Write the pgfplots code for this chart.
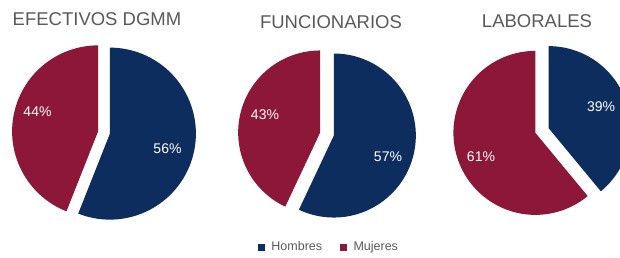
\documentclass[border=0pt]{standalone}
\usepackage{pgfplots}
\pgfplotsset{compat=1.18}
\usepackage{fontspec}
\setmainfont{Liberation Sans}
\definecolor{cHom}{HTML}{0C2D5E}
\definecolor{cMuj}{HTML}{8C1738}
\definecolor{cTxt}{HTML}{595959}

% one slice: centre x, centre y, radius, explosion, start angle, end angle (clockwise from top), colour
\newcommand\pieslice[7]{%
  \pgfmathsetmacro\midang{(#5+#6)/2}%
  \pgfmathsetmacro\ox{#1+#4*sin(\midang)}%
  \pgfmathsetmacro\oy{#2-#4*cos(\midang)}%
  \edef\tmp{\noexpand\addplot[fill=#7, draw=none, domain=#5:#6, samples=150, forget plot]
    ({\ox+#3*sin(x)},{\oy-#3*cos(x)}) -- (axis cs:\ox,\oy) -- cycle;}%
  \tmp
}
% pie: centre x, centre y, radius, explosion, share of Hombres (percent)
\newcommand\pie[5]{%
  \pgfmathsetmacro\angh{3.6*#5}%
  \pieslice{#1}{#2}{#3}{#4}{0}{\angh}{cHom}%
  \pgfmathsetmacro\angh{3.6*#5}%
  \pieslice{#1}{#2}{#3}{#4}{\angh}{360}{cMuj}%
}

\begin{document}
\begin{tikzpicture}
\begin{axis}[
  width=620pt, height=257pt, scale only axis,
  xmin=0, xmax=620, ymin=0, ymax=257, y dir=reverse,
  hide axis, clip=true,
  legend columns=2,
  legend style={at={(axis cs:329,247)}, anchor=center, draw=none, fill=none,
    font=\fontsize{12.5}{14}\selectfont\color{cTxt}, inner sep=0pt,
    /tikz/every even column/.append style={column sep=16pt}},
]
% Hombres percentages: EFECTIVOS DGMM 56, FUNCIONARIOS 57, LABORALES 39
\pie{104}{132.5}{86}{6}{56}
\pie{327}{134}{82}{7}{57}
\pie{542}{130.5}{82}{7}{39}

\addlegendimage{legend image code/.code={\fill[cHom] (0pt,-3pt) rectangle (6pt,3pt);}}
\addlegendentry{\hspace{5pt}Hombres}
\addlegendimage{legend image code/.code={\fill[cMuj] (0pt,-3pt) rectangle (6pt,3pt);}}
\addlegendentry{\hspace{5pt}Mujeres}

\begin{scope}[every node/.style={font=\fontsize{18.5}{20}\selectfont, text=cTxt}]
\node at (axis cs:97,19) {EFECTIVOS DGMM};
\node at (axis cs:331,22.5) {FUNCIONARIOS};
\node at (axis cs:537,21) {LABORALES};
\end{scope}
\begin{scope}[every node/.style={font=\fontsize{14}{16}\selectfont, text=white}]
\node at (axis cs:37.5,112) {44\%};
\node at (axis cs:167.5,149) {56\%};
\node at (axis cs:265,115) {43\%};
\node at (axis cs:388,157) {57\%};
\node at (axis cs:601,107) {39\%};
\node at (axis cs:481,157) {61\%};
\end{scope}
\end{axis}
\pgfresetboundingbox
\useasboundingbox (0,0) rectangle (620pt,257pt);
\end{tikzpicture}
\end{document}
